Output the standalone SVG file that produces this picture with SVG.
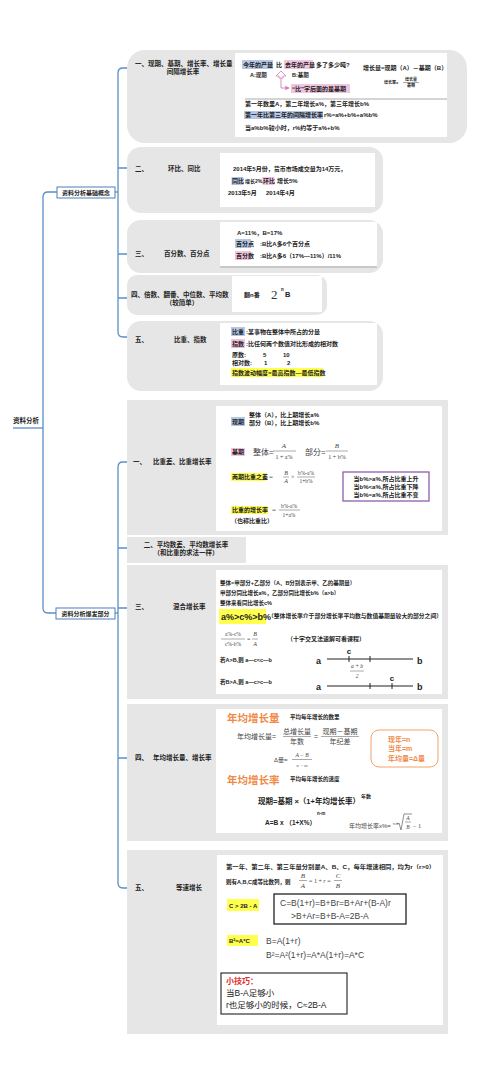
<svg xmlns="http://www.w3.org/2000/svg" width="500" height="1071" viewBox="0 0 500 1071">
<style>
.t{font-family:"Liberation Sans","Noto Sans CJK SC",sans-serif;font-weight:bold;font-size:6px;fill:#222}
.l{font-family:"Liberation Sans","Noto Sans CJK SC",sans-serif;font-weight:bold;font-size:6.5px;fill:#222}
.n{font-family:"Liberation Sans","Noto Sans CJK SC",sans-serif;font-size:8px;fill:#444}
.s{font-family:"Liberation Serif","Noto Sans CJK SC",serif;font-size:7px;fill:#444}
.i{font-family:"Liberation Serif",serif;font-style:italic;font-size:7px;fill:#444}
.o{font-family:"Liberation Sans","Noto Sans CJK SC",sans-serif;font-weight:bold;fill:#f08a46}
.g{fill:#e6e6e6}
.w{fill:#fff}
.hb{fill:#b4c7e7}
.hp{fill:#f2c4e0}
.hy{fill:#ffff4d}
.c{fill:none;stroke:#5b8fc7;stroke-width:1.3}
.nb{fill:#fff;stroke:#4f7fb8;stroke-width:1}
.fl{stroke:#555;stroke-width:0.5}
</style>
<defs>
<marker id="ap" viewBox="0 0 6 6" refX="5" refY="3" markerWidth="5" markerHeight="5" orient="auto"><path d="M0,0 L6,3 L0,6 z" fill="#d77fb3"/></marker>
</defs>
<rect width="500" height="1071" fill="#fff"/>

<g id="connectors">
<path class="c" d="M13,428 H43"/>
<path class="c" d="M57,192 H48 Q43,192 43,197 V608 Q43,613 48,613 H56"/>
<path class="c" d="M115,192 H118"/>
<path class="c" d="M127,68 H123 Q118,68 118,73 V332 Q118,337 123,337 H127"/>
<path class="c" d="M118,168 H127 M118,254 H127 M118,298 H127"/>
<path class="c" d="M115,613 H118"/>
<path class="c" d="M127,462 H123 Q118,462 118,467 V883 Q118,888 123,888 H127"/>
<path class="c" d="M118,548 H127 M118,608 H127 M118,758 H127"/>
</g>

<g id="root"><text class="l" x="13" y="423">资料分析</text></g>
<g id="n-basic"><rect class="nb" x="57" y="187" width="58" height="11"/><text class="t" x="86" y="195" text-anchor="middle">资料分析基础概念</text></g>
<g id="n-burst"><rect class="nb" x="56" y="608" width="59" height="11"/><text class="t" x="85.5" y="616" text-anchor="middle">资料分析爆发部分</text></g>

<g id="g1">
<rect class="g" x="127" y="50" width="340" height="93" rx="18"/>
<rect class="w" x="235" y="53" width="212" height="84"/>
<text class="l" x="135" y="66">一、现期、基期、增长率、增长量</text>
<text class="l" x="183" y="74" text-anchor="middle">间隔增长率</text>
<rect class="hb" x="242" y="60" width="31" height="9"/>
<text class="t" x="243" y="67">今年的产量</text>
<text class="t" x="276" y="67">比</text>
<rect class="hp" x="284" y="60" width="29" height="9"/>
<text class="t" x="285" y="67">去年的产量</text>
<text class="t" x="316" y="67">多了多少吨?</text>
<text class="t" x="250" y="77" style="font-size:5.5px">A:现期</text>
<text class="t" x="292" y="77" style="font-size:5.5px">B:基期</text>
<path d="M281,71 L286,76 L283,76 L283,78 L279,78 L279,76 L276,76 Z" fill="#fff" stroke="#d77fb3" stroke-width="0.8"/>
<path d="M281,78 V88 H289" fill="none" stroke="#d77fb3" stroke-width="0.9" marker-end="url(#ap)"/>
<rect class="hp" x="291" y="84" width="59" height="9"/>
<text class="t" x="292" y="91">“比”字后面的是基期</text>
<text class="t" x="363" y="70">增长量=现期（A）－基期（B）</text>
<text class="t" x="384" y="84" style="font-size:4px">增长率=</text>
<text class="t" x="411" y="81" style="font-size:4px" text-anchor="middle">增长量</text>
<line class="fl" x1="403" y1="82.5" x2="419" y2="82.5"/>
<text class="t" x="411" y="87" style="font-size:4px" text-anchor="middle">基期</text>
<line x1="245" y1="99" x2="447" y2="99" stroke="#aaa" stroke-width="1"/>
<text class="t" x="245" y="106">第一年数里A，第二年增长a%，第三年增长b%</text>
<rect class="hb" x="244" y="111" width="79" height="8"/>
<text class="t" x="245" y="117">第一年比第三年的间隔增长率</text>
<text class="t" x="324" y="117">r%=a%+b%+a%b%</text>
<text class="t" x="245" y="130">当a%b%较小时，r%约等于a%+b%</text>
</g>

<g id="g2">
<rect class="g" x="127" y="147" width="256" height="66" rx="14"/>
<rect class="w" x="220" y="153" width="155" height="54"/>
<text class="l" x="135" y="171">二、</text>
<text class="l" x="168" y="171">环比、同比</text>
<text class="t" x="233" y="171">2014年5月份，货币市场成交量为14万元，</text>
<rect class="hb" x="231.5" y="177" width="12" height="8"/>
<rect class="hp" x="262.5" y="177" width="12" height="8"/>
<text class="t" y="183"><tspan x="232">同比</tspan><tspan x="245" style="font-size:5px">增长2%,</tspan><tspan x="263">环比</tspan><tspan x="277">增长5%</tspan></text>
<text class="t" x="228" y="195">2013年5月</text>
<text class="t" x="266" y="195">2014年4月</text>
</g>

<g id="g3">
<rect class="g" x="127" y="220" width="256" height="53" rx="14"/>
<rect x="220" y="223" width="157" height="45" fill="#c8c8c8"/>
<rect class="w" x="220" y="222" width="157" height="44"/>
<text class="l" x="135" y="256">三、</text>
<text class="l" x="164" y="256">百分数、百分点</text>
<text class="t" x="237" y="235">A=11%，B=17%</text>
<rect class="hb" x="235" y="239" width="16" height="9"/>
<text class="t" x="236" y="246">百分点</text>
<text class="t" x="260" y="246">:B比A多6个百分点</text>
<rect class="hp" x="235" y="251" width="16" height="9"/>
<text class="t" x="236" y="258">百分数</text>
<text class="t" x="260" y="258">:B比A多6（17%—11%）/11%</text>
</g>

<g id="g4">
<rect class="g" x="127" y="275" width="200" height="40" rx="10"/>
<rect class="w" x="232" y="276" width="90" height="36"/>
<text class="l" x="131" y="297">四、倍数、翻番、中位数、平均数</text>
<text class="l" x="182" y="305" text-anchor="middle">（较简单）</text>
<text class="t" x="244" y="297">翻n番</text>
<text x="271" y="299" font-family="Liberation Serif,serif" font-size="13" fill="#333">2</text>
<text class="t" x="281" y="291" style="font-size:4.5px">n</text>
<text class="t" x="285" y="297" style="font-size:7.5px">B</text>
</g>

<g id="g5">
<rect class="g" x="127" y="321" width="256" height="70" rx="14"/>
<rect class="w" x="220" y="323" width="157" height="62"/>
<text class="l" x="135" y="342">五、</text>
<text class="l" x="174" y="342">比重、指数</text>
<rect class="hb" x="231" y="327" width="14" height="9"/>
<text class="t" x="232" y="334">比重</text>
<text class="t" x="246" y="334">:某事物在整体中所占的分量</text>
<rect class="hp" x="231" y="339" width="14" height="9"/>
<text class="t" x="232" y="346">指数</text>
<text class="t" x="246" y="346">:比任何两个数值对比形成的相对数</text>
<text class="t" x="232" y="357">原数:</text><text class="t" x="263" y="357">5</text><text class="t" x="283" y="357">10</text>
<text class="t" x="232" y="365">相对数:</text><text class="t" x="264" y="365">1</text><text class="t" x="287" y="365">2</text>
<rect class="hy" x="231" y="368" width="92" height="9"/>
<text class="t" x="232" y="375">指数波动幅度=最高指数—最低指数</text>
</g>

<g id="h1">
<rect class="g" x="127" y="400" width="321" height="135"/>
<rect class="w" x="216" y="406" width="226" height="125"/>
<text class="l" x="133" y="464">一、</text>
<text class="l" x="153" y="464">比重差、比重增长率</text>
<rect class="hb" x="231" y="417" width="14" height="9"/>
<text class="t" x="232" y="424">现期</text>
<text class="t" x="249" y="417">整体（A），比上期增长a%</text>
<text class="t" x="249" y="425">部分（B），比上期增长b%</text>
<rect class="hp" x="231" y="448" width="14" height="8"/>
<text class="t" x="232" y="454">基期</text>
<text class="n" x="253" y="455">整体=</text>
<text class="i" x="284" y="448" text-anchor="middle">A</text>
<line class="fl" x1="273" y1="451" x2="296" y2="451"/>
<text class="s" x="284" y="459" text-anchor="middle" style="font-size:6px">1 + a%</text>
<text class="n" x="305" y="455">部分=</text>
<text class="i" x="337" y="448" text-anchor="middle">B</text>
<line class="fl" x1="326" y1="451" x2="348" y2="451"/>
<text class="s" x="337" y="459" text-anchor="middle" style="font-size:6px">1 + b%</text>
<rect class="hy" x="231" y="473" width="35" height="8"/>
<text class="t" x="232" y="479">两期比重之差</text>
<text class="s" x="269" y="479">=</text>
<text class="i" x="286" y="475" text-anchor="middle" style="font-size:6px">B</text>
<line class="fl" x1="283" y1="477" x2="289" y2="477"/>
<text class="i" x="286" y="483" text-anchor="middle" style="font-size:6px">A</text>
<text class="s" x="291" y="479" style="font-size:6px">×</text>
<text class="s" x="306" y="475" text-anchor="middle" style="font-size:5.5px">b%-a%</text>
<line class="fl" x1="297" y1="477" x2="315" y2="477"/>
<text class="s" x="306" y="483" text-anchor="middle" style="font-size:5.5px">1+b%</text>
<rect x="343" y="472" width="86" height="29" fill="#fff" stroke="#8e5fb0" stroke-width="1.3"/>
<text class="t" x="386" y="481" text-anchor="middle">当b%&gt;a%,所占比重上升</text>
<text class="t" x="386" y="489" text-anchor="middle">当b%&lt;a%,所占比重下降</text>
<text class="t" x="386" y="497" text-anchor="middle">当b%=a%,所占比重不变</text>
<rect class="hy" x="231" y="506" width="37" height="8"/>
<text class="t" x="232" y="512">比重的增长率</text>
<text class="s" x="272" y="512">=</text>
<text class="s" x="289" y="508" text-anchor="middle" style="font-size:5.5px">b%-a%</text>
<line class="fl" x1="279" y1="510" x2="300" y2="510"/>
<text class="s" x="289" y="517" text-anchor="middle" style="font-size:5.5px">1+a%</text>
<text class="t" x="231" y="523">（也称比重比）</text>
</g>

<g id="h2">
<rect class="g" x="127" y="537" width="119" height="26"/>
<text class="l" x="186" y="547" text-anchor="middle">二、平均数差、平均数增长率</text>
<text class="l" x="186" y="555" text-anchor="middle">（和比重的求法一样）</text>
</g>

<g id="h3">
<rect class="g" x="127" y="565" width="321" height="134"/>
<rect class="w" x="216" y="570" width="226" height="124"/>
<text class="l" x="135" y="609">三、</text>
<text class="l" x="173" y="609">混合增长率</text>
<text class="t" x="220" y="585" style="font-size:5.5px">整体=甲部分+乙部分（A、B分别表示甲、乙的基期量）</text>
<text class="t" x="220" y="595" style="font-size:5.5px">甲部分同比增长a%，乙部分同比增长b%（a&gt;b）</text>
<text class="t" x="220" y="605" style="font-size:5.5px">整体来看同比增长c%</text>
<rect class="hy" x="219" y="609" width="47" height="15"/>
<text class="t" x="221" y="620" style="font-size:9px">a%&gt;c%&gt;b%</text>
<text class="t" x="268" y="618" style="font-size:5.5px" textLength="174" lengthAdjust="spacingAndGlyphs">（整体增长率介于部分增长率平均数与数值基期量较大的部分之间）</text>
<text class="s" x="233" y="636" text-anchor="middle" style="font-size:5.5px">a%-c%</text>
<line class="fl" x1="221" y1="639" x2="245" y2="639"/>
<text class="s" x="233" y="646" text-anchor="middle" style="font-size:5.5px">c%-b%</text>
<text class="s" x="247" y="641" style="font-size:6px">=</text>
<text class="i" x="255" y="636" text-anchor="middle" style="font-size:6px">B</text>
<line class="fl" x1="252" y1="639" x2="258" y2="639"/>
<text class="i" x="255" y="646" text-anchor="middle" style="font-size:6px">A</text>
<text class="t" x="287" y="641">（十字交叉法速解可看课程）</text>
<text class="t" x="220" y="662" style="font-size:5.5px">若A&gt;B,则 a—c&lt;c—b</text>
<text class="t" x="316" y="664" style="font-size:9px">a</text>
<line x1="327" y1="659" x2="413" y2="659" stroke="#222" stroke-width="1.2"/>
<line x1="349" y1="656" x2="349" y2="662" stroke="#222" stroke-width="1"/>
<line x1="370" y1="656" x2="370" y2="662" stroke="#222" stroke-width="1"/>
<text class="t" x="349" y="654" style="font-size:8px" text-anchor="middle">c</text>
<text class="t" x="417" y="664" style="font-size:9px">b</text>
<text class="i" x="357" y="668" text-anchor="middle" style="font-size:5.5px">a + b</text>
<line class="fl" x1="350" y1="671" x2="364" y2="671"/>
<text class="i" x="357" y="678" text-anchor="middle" style="font-size:5.5px">2</text>
<text class="t" x="220" y="684" style="font-size:5.5px">若B&gt;A,则 a—c&gt;c—b</text>
<text class="t" x="316" y="690" style="font-size:9px">a</text>
<line x1="327" y1="686" x2="413" y2="686" stroke="#222" stroke-width="1.2"/>
<line x1="370" y1="683" x2="370" y2="689" stroke="#222" stroke-width="1"/>
<line x1="392" y1="683" x2="392" y2="689" stroke="#222" stroke-width="1"/>
<text class="t" x="392" y="681" style="font-size:8px" text-anchor="middle">c</text>
<text class="t" x="417" y="690" style="font-size:9px">b</text>
</g>

<g id="h4">
<rect class="g" x="127" y="704" width="321" height="137"/>
<rect class="w" x="216" y="709" width="226" height="124"/>
<text class="l" x="135" y="760">四、</text>
<text class="l" x="153" y="760">年均增长量、增长率</text>
<text class="o" x="227" y="722" style="font-size:10.5px">年均增长量</text>
<text class="t" x="290" y="719" style="font-size:5.5px">平均每年增长的数里</text>
<text class="n" x="237" y="739" style="font-size:7px">年均增长量=</text>
<text class="n" x="297" y="734" style="font-size:7px" text-anchor="middle">总增长量</text>
<line class="fl" x1="283" y1="736.5" x2="311" y2="736.5"/>
<text class="n" x="297" y="744" style="font-size:7px" text-anchor="middle">年数</text>
<text class="n" x="314" y="739" style="font-size:7px">=</text>
<text class="n" x="340" y="734" style="font-size:7px" text-anchor="middle">现期－基期</text>
<line class="fl" x1="321" y1="736.5" x2="359" y2="736.5"/>
<text class="n" x="340" y="744" style="font-size:7px" text-anchor="middle">年纪差</text>
<text class="n" x="274" y="762" style="font-size:6px">Δ量=</text>
<text class="i" x="302" y="757" text-anchor="middle" style="font-size:5.5px">A − B</text>
<line class="fl" x1="292" y1="759.5" x2="312" y2="759.5"/>
<text class="i" x="302" y="767" text-anchor="middle" style="font-size:4.5px">n − m</text>
<rect x="371" y="730" width="67" height="37" rx="8" fill="#fff" stroke="#f5a26a" stroke-width="1"/>
<text class="o" x="388" y="742" style="font-size:7px">现年=n</text>
<text class="o" x="388" y="751" style="font-size:7px">当年=m</text>
<text class="o" x="388" y="761" style="font-size:7px">年均量=Δ量</text>
<text class="o" x="227" y="784" style="font-size:10.5px">年均增长率</text>
<text class="t" x="290" y="781" style="font-size:5.5px">平均每年增长的速度</text>
<text class="t" x="258" y="804" style="font-size:7.5px">现期=基期 ×（1+年均增长率）</text>
<text class="t" x="361" y="798" style="font-size:5px">年数</text>
<text class="t" x="265" y="825" style="font-size:6.5px">A=B x （1+X%）</text>
<text class="t" x="317" y="815" style="font-size:4.5px">n-m</text>
<text class="n" x="349" y="828" style="font-size:6px">年均增长率x%=</text>
<text class="n" x="393" y="825" style="font-size:3px">n-m</text>
<path d="M397,824 L399,823 L401,830 L404,814 H412" fill="none" stroke="#444" stroke-width="0.6"/>
<text class="i" x="408" y="820" text-anchor="middle" style="font-size:5.5px">A</text>
<line class="fl" x1="405" y1="822" x2="411" y2="822"/>
<text class="i" x="408" y="829" text-anchor="middle" style="font-size:5.5px">B</text>
<text class="s" x="413" y="828" style="font-size:6px">− 1</text>
</g>

<g id="h5">
<rect class="g" x="127" y="850" width="321" height="184"/>
<rect class="w" x="217" y="855" width="226" height="170"/>
<text class="l" x="135" y="890">五、</text>
<text class="l" x="176" y="890">等速增长</text>
<text class="t" x="226" y="869" style="font-size:5.5px" textLength="209" lengthAdjust="spacingAndGlyphs">第一年、第二年、第三年量分别是A、B、C，每年增速相同，均为r（r&gt;0）</text>
<text class="t" x="226" y="884" style="font-size:5.5px">则有A,B,C成等比数列，则</text>
<text class="i" x="303" y="878" text-anchor="middle">B</text>
<line class="fl" x1="299" y1="880.5" x2="307" y2="880.5"/>
<text class="i" x="303" y="888" text-anchor="middle">A</text>
<text class="s" x="309" y="883" style="font-size:6px">= 1 + <tspan font-style="italic">r</tspan> =</text>
<text class="i" x="338" y="878" text-anchor="middle">C</text>
<line class="fl" x1="334" y1="880.5" x2="342" y2="880.5"/>
<text class="i" x="338" y="888" text-anchor="middle">B</text>
<rect class="hy" x="227" y="899" width="32" height="12"/>
<text class="t" x="229" y="907.5">C &gt; 2B - A</text>
<rect x="274" y="894" width="132" height="30" fill="#fff" stroke="#222" stroke-width="1.3"/>
<text class="n" x="280" y="906" style="font-size:8.5px">C=B(1+r)=B+Br=B+Ar+(B-A)r</text>
<text class="n" x="291" y="919" style="font-size:8.5px">&gt;B+Ar=B+B-A=2B-A</text>
<rect class="hy" x="227" y="935" width="31" height="11"/>
<text class="t" x="229" y="943">B²=A*C</text>
<text class="n" x="266" y="944" style="font-size:8.5px">B=A(1+r)</text>
<text class="n" x="266" y="958" style="font-size:8.5px">B²=A²(1+r)=A*A(1+r)=A*C</text>
<rect x="221" y="973" width="126" height="41" fill="#fff" stroke="#333" stroke-width="1.2"/>
<text x="226" y="984" font-family="Liberation Serif,'Noto Sans CJK SC',serif" font-weight="bold" font-size="8" fill="#e03030">小技巧：</text>
<text class="n" x="226" y="996" style="font-size:8.5px;fill:#222">当B-A足够小</text>
<text class="n" x="226" y="1008" style="font-size:8.5px;fill:#222">r也足够小的时候，C≈2B-A</text>
</g>
</svg>
